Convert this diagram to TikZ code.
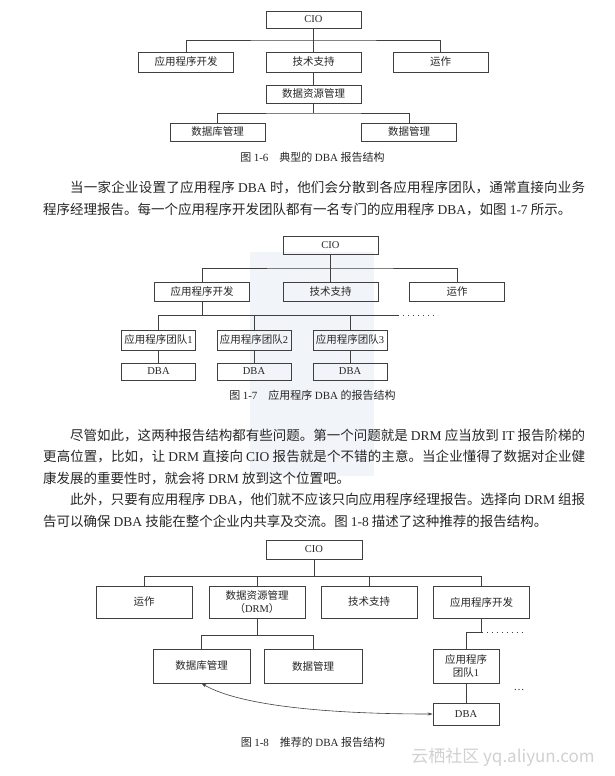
\documentclass[tikz,border=0pt]{standalone}
\usepackage{fontspec}
\setmainfont{Noto Sans CJK SC}
\newfontfamily\enfont{Liberation Serif}
\newcommand{\en}[1]{{\enfont #1}}
\usetikzlibrary{arrows.meta, calc, positioning}
\definecolor{wmark}{RGB}{241,244,248}
\XeTeXlinebreaklocale "zh"
\XeTeXlinebreakskip=0pt plus 1pt minus 0.3pt

\begin{document}
\begin{tikzpicture}[
    x=1pt, y=-1pt,
    unit/.style={draw=black!75, line width=0.7pt, rectangle, minimum width=95pt, minimum height=18pt,
      inner sep=0pt, align=center, text=black!85, font=\fontsize{10.5}{13}\selectfont},
    link/.style={draw=black!75, line width=0.7pt},
    more/.style={link, dash pattern=on 1.2pt off 3.8pt},
    caption/.style={text=black!85, font=\fontsize{11}{13}\selectfont},
    body/.style={text width=542pt, align=justify, inner sep=0pt, anchor=base west, text=black!85,
      font=\fontsize{13.5}{22.5}\selectfont},
    arr/.style={{Stealth[length=5pt,width=3pt]}-{Stealth[length=5pt,width=3pt]}, line width=0.6pt, black!75}
  ]
  \useasboundingbox (0,0) rectangle (615,776);
  \fill[white] (0,0) rectangle (615,776);
  \fill[wmark] (250,252) rectangle (374,476);

  % Figure 1-6
  \node[unit, minimum height=17pt] (cio6) at (313.5,19.5) {\en{CIO}};
  \node[unit, minimum height=20pt] (app6) at (186,62) {应用程序开发};
  \node[unit, minimum height=20pt] (tech6) at (313.5,62) {技术支持};
  \node[unit, minimum height=20pt] (ops6) at (440.5,62) {运作};
  \node[unit] (drm6) at (313.5,94) {数据资源管理};
  \node[unit] (db6) at (217.5,132) {数据库管理};
  \node[unit] (dm6) at (409,132) {数据管理};
  \coordinate (b6) at ($(cio6.south)!0.5!(tech6.north)$);
  \coordinate (c6) at ($(drm6.south)!0.5!(drm6.south |- db6.north)$);
  \draw[link] (cio6) -- (tech6);
  \draw[link] (app6.north) |- (b6) -| (ops6.north);
  \draw[link] (tech6) -- (drm6);
  \draw[link] (drm6) -- (c6);
  \draw[link] (db6.north) |- (c6) -| (dm6.north);
  \node[caption] (cap6) at (312.5,157) {图 \en{1-6}\hspace{1em}典型的 \en{DBA} 报告结构};

  \node[body] (para1) at (43,192) {\hspace*{2em}当一家企业设置了应用程序 \en{DBA} 时，他们会分散到各应用程序团队，通常直接向业务\break
    程序经理报告。每一个应用程序开发团队都有一名专门的应用程序 \en{DBA}，如图 \en{1-7} 所示。};

  % Figure 1-7
  \node[unit] (cio7) at (330.5,245) {\en{CIO}};
  \node[unit, minimum height=19pt] (app7) at (202,291.5) {应用程序开发};
  \node[unit, minimum height=19pt] (tech7) at (330.5,291.5) {技术支持};
  \node[unit, minimum height=19pt] (ops7) at (457,291.5) {运作};
  \foreach \i/\x in {1/158.5, 2/254, 3/350} {
    \node[unit, minimum width=74pt, minimum height=20pt] (team\i) at (\x,340) {应用程序团队\en{\i}};
    \node[unit, minimum width=74pt, minimum height=17pt] (dba\i) at (\x,371.5) {\en{DBA}};
    \draw[link] (team\i) -- (dba\i);
  }
  \coordinate (b7) at ($(cio7.south)!0.5!(tech7.north)$);
  \coordinate (t7) at ($(app7.south)!0.5!(app7.south |- team1.north)$);
  \coordinate (end7) at ($(t7 -| team3.north) + (48,0)$);
  \draw[link] (cio7) -- (tech7);
  \draw[link] (app7.north) |- (b7) -| (ops7.north);
  \draw[link] (app7) -- (t7);
  \draw[link] (team1.north) |- (t7) -- (end7);
  \draw[link] (team2.north) -- (team2.north |- t7);
  \draw[link] (team3.north) -- (team3.north |- t7);
  \draw[more] (end7) -- ++(40,0);
  \node[caption] (cap7) at (312.5,395) {图 \en{1-7}\hspace{1em}应用程序 \en{DBA} 的报告结构};

  \node[body, font=\fontsize{13.5}{21.5}\selectfont] (para2) at (43,440) {\hspace*{2em}尽管如此，这两种报告结构都有些问题。第一个问题就是 \en{DRM} 应当放到 \en{IT} 报告阶梯的\break
    更高位置，比如，让 \en{DRM} 直接向 \en{CIO} 报告就是个不错的主意。当企业懂得了数据对企业健\break
    康发展的重要性时，就会将 \en{DRM} 放到这个位置吧。\par
    \hspace*{2em}此外，只要有应用程序 \en{DBA}，他们就不应该只向应用程序经理报告。选择向 \en{DRM} 组报\break
    告可以确保 \en{DBA} 技能在整个企业内共享及交流。图 \en{1-8} 描述了这种推荐的报告结构。};

  % Figure 1-8
  \node[unit, minimum width=96pt, minimum height=19pt] (cio8) at (314,549.5) {\en{CIO}};
  \node[unit, minimum width=96pt, minimum height=32pt] (ops8) at (144,602) {运作};
  \node[unit, minimum width=96pt, minimum height=32pt] (drm8) at (257,602) {数据资源管理\\（\en{DRM}）};
  \node[unit, minimum width=96pt, minimum height=32pt] (tech8) at (369,602) {技术支持};
  \node[unit, minimum width=96pt, minimum height=32pt] (app8) at (481.5,602) {应用程序开发};
  \node[unit, minimum width=97pt, minimum height=34pt] (db8) at (201.5,666) {数据库管理};
  \node[unit, minimum width=98pt, minimum height=34pt] (dm8) at (313,666) {数据管理};
  \node[unit, minimum width=66pt, minimum height=34pt] (team8) at (466,666) {应用程序\\团队\en{1}};
  \node[unit, minimum width=66pt, minimum height=22pt] (dba8) at (466,714) {\en{DBA}};
  \node[caption, anchor=base] (more8) at (519,690) {\en{\ldots}};
  \coordinate (b8) at ($(cio8.south)+(0,17)$);
  \coordinate (d8) at ($(drm8.south)+(0,17)$);
  \coordinate (a8) at ($(app8.south)+(0,14)$);
  \draw[link] (cio8.south) -- (b8);
  \draw[link] (ops8.north) |- (b8) -| (app8.north);
  \draw[link] (drm8.north) -- (drm8.north |- b8);
  \draw[link] (tech8.north) -- (tech8.north |- b8);
  \draw[link] (drm8.south) -- (d8);
  \draw[link] (db8.north) |- (d8) -| (dm8.north);
  \draw[link] (app8.south) -- (a8) -| (team8.north);
  \draw[more] (a8) -- ++(43,0);
  \draw[link] (team8) -- (dba8);
  \draw[arr] (db8.south) .. controls (240,706) and (330,714) .. (dba8.west);
  \node[caption] (cap8) at (313,742) {图 \en{1-8}\hspace{1em}推荐的 \en{DBA} 报告结构};

  \node[text=black!18, font=\fontsize{17}{17}\selectfont] (site) at (503,757) {云栖社区 yq.aliyun.com};
\end{tikzpicture}
\end{document}
